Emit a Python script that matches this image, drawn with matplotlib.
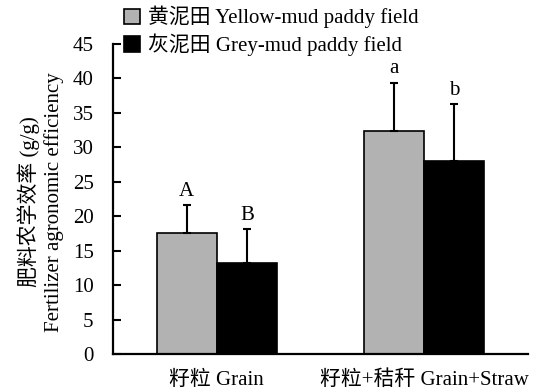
import matplotlib
matplotlib.use("Agg")
import matplotlib.pyplot as plt
import numpy as np

plt.rcParams['font.family'] = ['Liberation Serif', 'Noto Sans CJK SC']
plt.rcParams['mathtext.fontset'] = 'stix'

categories = ["籽粒 Grain", "籽粒+秸秆 Grain+Straw"]
series_names = ["黄泥田 Yellow-mud paddy field", "灰泥田 Grey-mud paddy field"]
yellow_vals = [17.5, 32.4]
yellow_err = [4.1, 7.0]
grey_vals = [13.2, 28.0]
grey_err = [4.9, 8.3]
yellow_letters = ["A", "a"]
grey_letters = ["B", "b"]
yticks = [0, 5, 10, 15, 20, 25, 30, 35, 40, 45]

FS = 15

fig = plt.figure(figsize=(5.38, 3.92), dpi=100)
ax = fig.add_axes([113/538, 1-354/392, 415/538, (354-44)/392])

x = np.arange(len(categories))
w = 0.29
ax.bar(x - w/2, yellow_vals, w, color='#b2b2b2', edgecolor='black', linewidth=1.2,
       yerr=[[0]*2, yellow_err], error_kw=dict(ecolor='black', elinewidth=1.5, capsize=3, capthick=1.5),
       label=series_names[0], zorder=2)
ax.bar(x + w/2, grey_vals, w, color='black', edgecolor='black', linewidth=1.2,
       yerr=[[0]*2, grey_err], error_kw=dict(ecolor='black', elinewidth=1.5, capsize=3, capthick=1.5),
       label=series_names[1], zorder=2)

for i in range(len(categories)):
    ax.text(x[i] - w/2, yellow_vals[i] + yellow_err[i] + 0.6, yellow_letters[i],
            ha='center', va='bottom', fontsize=FS)
    ax.text(x[i] + w/2, grey_vals[i] + grey_err[i] + 0.6, grey_letters[i],
            ha='center', va='bottom', fontsize=FS)

ax.set_xlim(-0.5, 1.5)
ax.set_ylim(0, 45)
ax.set_yticks(yticks)
ax.set_yticklabels([str(t) for t in yticks], fontsize=FS)
ax.set_xticks(x)
ax.set_xticklabels(categories, fontsize=FS)
ax.tick_params(axis='x', length=0, pad=12)
ax.tick_params(axis='y', direction='in', length=6, width=1.5, pad=14)
for s in ['top', 'right']:
    ax.spines[s].set_visible(False)
for s in ['left', 'bottom']:
    ax.spines[s].set_linewidth(1.6)

ax.set_ylabel("肥料农学效率 (g/g)\nFertilizer agronomic efficiency", fontsize=FS, linespacing=1.25)
ax.yaxis.set_label_coords(-49/415, 0.5 - 3/310, transform=ax.transAxes)

leg = fig.legend(loc='upper left', bbox_to_anchor=(124/538, 1-6/392), bbox_transform=fig.transFigure,
                 frameon=False, fontsize=FS,
                 handlelength=0.75, handleheight=0.75, handletextpad=0.4, labelspacing=0.25,
                 borderaxespad=0, borderpad=0)

fig.savefig("out.png", dpi=100)
